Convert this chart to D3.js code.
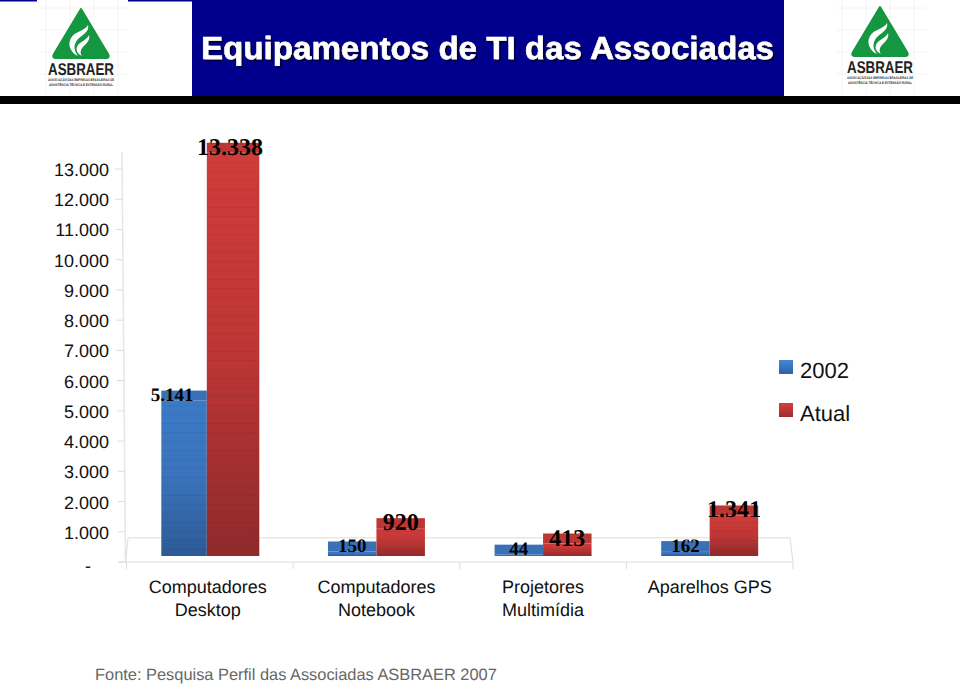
<!DOCTYPE html>
<html><head><meta charset="utf-8">
<script src="https://cdnjs.cloudflare.com/ajax/libs/d3/7.8.5/d3.min.js"></script>
<style>html,body{margin:0;padding:0;background:#fff}svg{display:block}text{font-family:"Liberation Sans",Arial,sans-serif;text-rendering:geometricPrecision}</style>
</head><body><div id="chart"></div>
<script>
const categories = [["Computadores","Desktop"],["Computadores","Notebook"],["Projetores","Multimídia"],["Aparelhos GPS"]];
const seriesNames = ["2002","Atual"];
const values2002 = [5141,150,44,162];
const valuesAtual = [13338,920,413,1341];
const tickValues = [0,1000,2000,3000,4000,5000,6000,7000,8000,9000,10000,11000,12000,13000];
const titleText = "Equipamentos de TI das Associadas";
const sourceText = "Fonte: Pesquisa Perfil das Associadas ASBRAER 2007";

const W=960,H=686;
const svg=d3.select("#chart").append("svg").attr("width",W).attr("height",H).attr("viewBox",`0 0 ${W} ${H}`);
const defs=svg.append("defs");
function grad(id,stops){const g=defs.append("linearGradient").attr("id",id).attr("x1",0).attr("y1",0).attr("x2",0).attr("y2",1);
  stops.forEach(s=>g.append("stop").attr("offset",s[0]).attr("stop-color",s[1]));}
grad("blueFace",[[0,"#3c7ac6"],[.5,"#3a73bb"],[1,"#2d5a96"]]);
grad("redFace",[[0,"#d03c3a"],[.5,"#bd3635"],[1,"#8f2a2b"]]);
grad("blueLeg",[[0,"#4488d6"],[1,"#2e62a6"]]);
grad("redLeg",[[0,"#d2403e"],[1,"#9e2d2d"]]);
const stripe=defs.append("pattern").attr("id","stripes").attr("patternUnits","userSpaceOnUse").attr("width",8).attr("height",9);
stripe.append("rect").attr("y",0).attr("width",8).attr("height",1).attr("fill","#000").attr("opacity",.05);
const shadow=defs.append("filter").attr("id","titleShadow").attr("x","-5%").attr("y","-20%").attr("width","110%").attr("height","150%");
shadow.append("feDropShadow").attr("dx",2).attr("dy",2).attr("stdDeviation",.4).attr("flood-color","#000040");

// Header
const head=svg.append("g");
head.append("rect").attr("x",192).attr("y",0).attr("width",592).attr("height",96).attr("fill","#00008c");
head.append("rect").attr("x",0).attr("y",96).attr("width",W).attr("height",8).attr("fill","#000");
head.append("rect").attr("x",0).attr("y",0).attr("width",37).attr("height",1.5).attr("fill","#00008c");
head.append("rect").attr("x",128).attr("y",0).attr("width",64).attr("height",1.5).attr("fill","#00008c");
head.append("text").attr("x",487.5).attr("y",59).attr("text-anchor","middle").attr("font-size",32).attr("font-weight","bold")
  .attr("textLength",573).attr("lengthAdjust","spacingAndGlyphs").attr("fill","#fff").attr("stroke","#fff").attr("stroke-width",.5)
  .attr("filter","url(#titleShadow)").text(titleText);

function logo(cx,top,gx0,gx1){
  const g=svg.append("g");
  // faint lattice behind the logo
  d3.range(gx0,gx1,24).forEach(x=>g.append("line").attr("x1",x).attr("x2",x).attr("y1",0).attr("y2",94).attr("stroke","#f4f4f4"));
  d3.range(8,94,22).forEach(y=>g.append("line").attr("x1",gx0-6).attr("x2",gx1).attr("y1",y).attr("y2",y).attr("stroke","#f4f4f4"));
  const l=g.append("g").attr("transform",`translate(${cx},${top})`);
  l.append("path").attr("d","M0,2 L27,47 Q29,51 25,51 L-25,51 Q-29,51 -27,47 Z").attr("fill","#159640").attr("stroke","#159640").attr("stroke-width",2).attr("stroke-linejoin","round");
  l.append("path").attr("d","M7,18 C9,26 -1,28 -5,35 C-8,40 -6,45 -3,49 C-10,46 -14,38 -10,31 C-6,24 4,24 7,18 Z").attr("fill","#fff");
  l.append("path").attr("d","M8,28 C10,35 2,38 0,43 C-1,46 0,48 1,49 C-4,47 -6,42 -3,38 C0,34 6,33 8,28 Z").attr("fill","#fff");
  l.append("text").attr("x",0).attr("y",67.5).attr("text-anchor","middle").attr("font-size",17).attr("font-weight","bold").attr("fill","#222").attr("textLength",66).attr("lengthAdjust","spacingAndGlyphs").text("ASBRAER");
  l.append("text").attr("x",0).attr("y",73.6).attr("text-anchor","middle").attr("font-size",3.6).attr("font-weight","bold").attr("fill","#333").attr("textLength",66).attr("lengthAdjust","spacingAndGlyphs").text("ASSOCIAÇÃO DAS EMPRESAS BRASILEIRAS DE");
  l.append("text").attr("x",0).attr("y",79).attr("text-anchor","middle").attr("font-size",3.6).attr("font-weight","bold").attr("fill","#333").attr("textLength",64).attr("lengthAdjust","spacingAndGlyphs").text("ASSISTÊNCIA TÉCNICA E EXTENSÃO RURAL");
}
logo(81,7,46,128);
logo(880,5,842,926);

// Scales
const fmt=d3.formatLocale({decimal:",",thousands:".",grouping:[3],currency:["",""]}).format(",d");
const y=d3.scaleLinear().domain([0,13000]).range([562,169]);
const wallX=d3.scaleLinear().domain([0,13000]).range([125.5,122]);
const x0=d3.scaleBand().domain(d3.range(categories.length)).range([126.5,793]).paddingInner(.418).paddingOuter(.209);
const x1=d3.scaleBand().domain(seriesNames).range([0,x0.bandwidth()]);
const floorDrop=6, capH=10;   // the 3-D floor lifts bars, and each bar has a visible top

// Wall + floor
const gridC="#dcdcdc";
const floor=svg.append("g").attr("fill","none").attr("stroke",gridC);
floor.append("path").attr("d",`M${wallX(13000)},152 L${wallX(0)},${y(0)}`).attr("stroke","#e6e6e6").attr("stroke-width",1.5);
floor.append("path").attr("d",`M${wallX(0)},${y(0)} L128,${y(800)} L790,${y(800)} L793,${y(0)}`);

// Y axis
const yAxis=svg.append("g");
yAxis.selectAll("line").data(tickValues).join("line")
  .attr("x1",d=>wallX(d)-7).attr("x2",d=>wallX(d)).attr("y1",d=>y(d)).attr("y2",d=>y(d)).attr("stroke",gridC);
yAxis.selectAll("text").data(tickValues).join("text")
  .attr("x",d=>d===0?91:109).attr("y",d=>y(d)+(d===0?10:7)).attr("text-anchor","end").attr("font-size",18).attr("fill","#111")
  .text(d=>d===0?"-":fmt(d));

// X axis
const xAxis=svg.append("g");
const seps=d3.range(categories.length+1).map(i=>x0.range()[0]+i*x0.step());
xAxis.append("line").attr("x1",118).attr("x2",793).attr("y1",y(0)).attr("y2",y(0)).attr("stroke",gridC);
xAxis.selectAll("line.sep").data(seps).join("line").attr("class","sep").attr("x1",d=>d).attr("x2",d=>d).attr("y1",y(0)).attr("y2",y(0)+7).attr("stroke",gridC);
xAxis.selectAll("text.cat").data(categories).join("text").attr("class","cat")
  .attr("text-anchor","middle").attr("font-size",18).attr("fill","#111")
  .attr("transform",(d,i)=>`translate(${x0(i)+x0.bandwidth()/2+(i===0?-2:0)},593)`)
  .each(function(d){d3.select(this).selectAll("tspan").data(d).join("tspan").attr("x",0).attr("y",(t,j)=>j*23).text(t=>t);});

// Bars
const bars=[];
categories.forEach((c,i)=>{
  bars.push({i,s:"2002",v:values2002[i]});
  bars.push({i,s:"Atual",v:valuesAtual[i]});
});
const skew=i=>i===0?3:0;
const barX=d=>x0(d.i)+x1(d.s)-(d.s==="Atual"?skew(d.i):0);
const barW=d=>x1.bandwidth()+(d.i===0?(d.s==="Atual"?4:-3):0);
const gBars=svg.append("g");
const bar=gBars.selectAll("g").data(bars).join("g");
bar.append("rect").attr("x",barX).attr("width",barW).attr("y",d=>y(d.v)-floorDrop).attr("height",d=>y(0)-y(d.v))
  .attr("fill",d=>d.s==="2002"?"url(#blueFace)":"url(#redFace)");
bar.append("rect").attr("x",barX).attr("width",barW).attr("y",d=>y(d.v)-floorDrop).attr("height",d=>y(0)-y(d.v)).attr("fill","url(#stripes)");
bar.append("rect").attr("x",barX).attr("width",barW).attr("y",d=>y(d.v)-floorDrop-capH).attr("height",capH)
  .attr("fill",d=>d.s==="2002"?"#3a70b6":"#bb3735");

// Data labels
bar.append("text").attr("text-anchor","middle").attr("font-weight","bold").attr("fill","#000")
  .style("font-family",'"Liberation Serif","Times New Roman",serif')
  .attr("font-size",d=>d.s==="2002"?19:24)
  .attr("x",d=>barX(d)+barW(d)/2+(d.i===0?(d.s==="2002"?-12:-3):0))
  .attr("y",d=>y(d.v)-floorDrop-capH+(d.s==="2002"?10.5:12))
  .text(d=>fmt(d.v));

// Legend
const legend=svg.append("g").selectAll("g").data(seriesNames).join("g").attr("transform",(d,i)=>`translate(779,${360+i*43})`);
legend.append("rect").attr("width",14).attr("height",14).attr("fill",(d,i)=>i?"url(#redLeg)":"url(#blueLeg)");
legend.append("text").attr("x",21).attr("y",18).attr("font-size",22).attr("fill","#111").text(d=>d);

// Source
svg.append("text").attr("x",95).attr("y",680).attr("font-size",16.4).attr("fill","#666").text(sourceText);
</script></body></html>
